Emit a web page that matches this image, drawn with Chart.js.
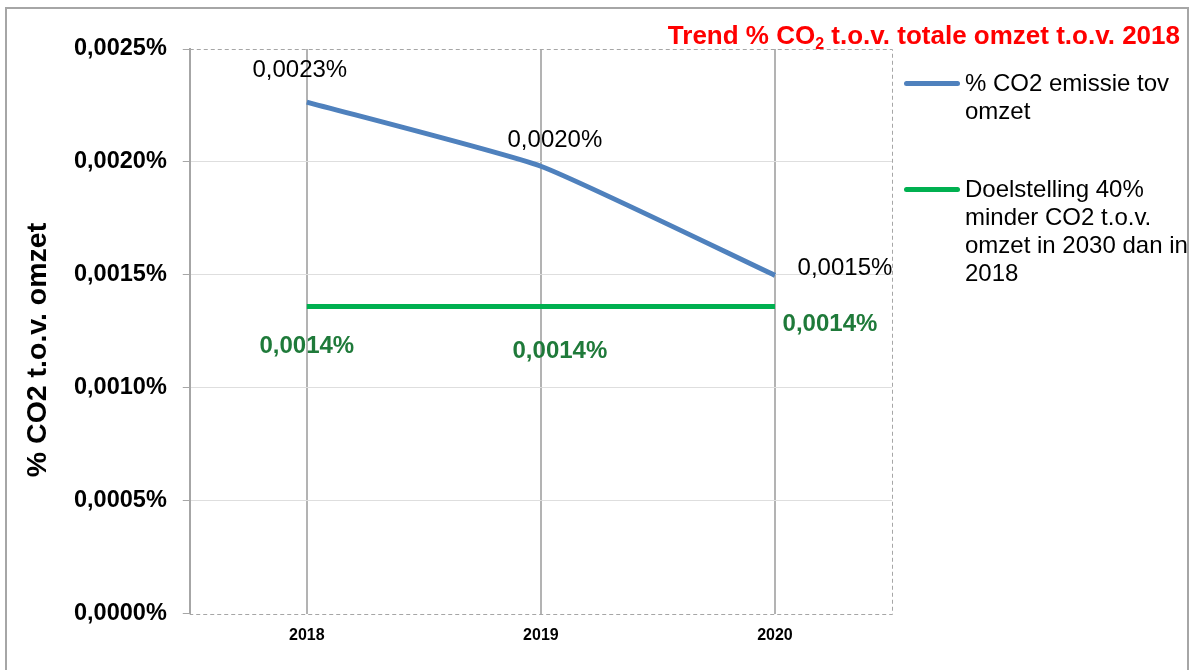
<!DOCTYPE html>
<html lang="nl">
<head>
<meta charset="UTF-8">
<title>Trend % CO2 t.o.v. totale omzet t.o.v. 2018</title>
<style>
    body {
        margin: 0;
        background: #fff;
        font-family: "Liberation Sans", Arial, sans-serif;
    }
    #wrap {
        position: relative;
        width: 1190px;
        height: 670px;
        overflow: hidden;
    }
    #chartBox {
        position: absolute;
        left: 0;
        top: 0;
        width: 1190px;
        height: 670px;
    }
    #frame {
        position: absolute;
        left: 5px;
        top: 7px;
        width: 1184px;
        height: 700px;
        border: 2px solid #a6a6a6;
        box-sizing: border-box;
        pointer-events: none;
    }
    #title {
        position: absolute;
        right: 10px;
        top: 20px;
        color: #ff0000;
        font-weight: bold;
        font-size: 26px;
        line-height: 30px;
        white-space: nowrap;
    }
    #title sub {
        font-size: 16px;
        vertical-align: -5px;
        line-height: 0;
    }
    #legend {
        position: absolute;
        left: 904px;
        top: 69px;
        width: 290px;
    }
    .item {
        display: flex;
        align-items: flex-start;
        margin-bottom: 50px;
    }
    .swatch {
        width: 56px;
        height: 5px;
        border-radius: 3px;
        margin-top: 12px;
        margin-right: 5px;
        flex: none;
    }
    .label {
        width: 228px;
        font-size: 24px;
        line-height: 28px;
        color: #000;
    }
</style>
<script src="https://cdn.jsdelivr.net/npm/chart.js"></script>
</head>
<body>
<div id="wrap">
    <div id="chartBox"><canvas id="co2Chart"></canvas></div>
    <div id="frame"></div>
    <div id="title">Trend % CO<sub>2</sub> t.o.v. totale omzet t.o.v. 2018</div>
    <div id="legend"></div>
</div>
<script>
    // Data (in %)
    const years = ['2018', '2019', '2020'];
    const co2Share = [0.002265, 0.001981, 0.001498];
    const target = [0.00136, 0.00136, 0.00136];
    const seriesNames = ['% CO2 emissie tov omzet', 'Doelstelling 40% minder CO2 t.o.v. omzet in 2030 dan in 2018'];
    const yTicks = [0, 0.0005, 0.0010, 0.0015, 0.0020, 0.0025];
    const yTitle = '% CO2 t.o.v. omzet';

    const FONT = '"Liberation Sans", Arial, sans-serif';
    const fmt = v => v.toFixed(4).replace('.', ',') + '%';

    // dashed plot frame (top, right, bottom), data labels, y axis title
    const extras = {
        id: 'extras',
        beforeDatasetsDraw(chart) {
            const {ctx, chartArea: a} = chart;
            const t = Math.round(a.top) + 0.5, r = Math.round(a.right) + 0.5, b = Math.round(a.bottom) + 0.5;
            ctx.save();
            ctx.strokeStyle = '#a6a6a6';
            ctx.lineWidth = 1;
            ctx.setLineDash([4, 3]);
            ctx.beginPath();
            ctx.moveTo(a.left, t);
            ctx.lineTo(r, t);
            ctx.lineTo(r, b);
            ctx.lineTo(a.left, b);
            ctx.stroke();
            ctx.restore();
        },
        afterDatasetsDraw(chart, args, opts) {
            const ctx = chart.ctx;
            ctx.save();
            ctx.textAlign = 'center';
            ctx.textBaseline = 'middle';
            chart.data.datasets.forEach((ds, i) => {
                const st = opts.styles[i];
                ctx.fillStyle = st.color;
                ctx.font = st.font;
                chart.getDatasetMeta(i).data.forEach((pt, j) => {
                    const off = st.offsets[j];
                    ctx.fillText(fmt(ds.data[j]), pt.x + off[0], pt.y + off[1]);
                });
            });
            // rotated axis title, sits a bit below the middle like the original
            ctx.translate(38, 350);
            ctx.rotate(-Math.PI / 2);
            ctx.fillStyle = '#000';
            ctx.font = 'bold 28.5px ' + FONT;
            ctx.fillText(yTitle, 0, 0);
            ctx.restore();
        }
    };

    const chart = new Chart(document.getElementById('co2Chart'), {
        type: 'line',
        data: {
            labels: years,
            datasets: [{
                label: seriesNames[0],
                data: co2Share,
                borderColor: '#4f81bd',
                borderWidth: 5,
                tension: 0.15,
                pointRadius: 0
            }, {
                label: seriesNames[1],
                data: target,
                borderColor: '#00b050',
                borderWidth: 5,
                pointRadius: 0
            }]
        },
        options: {
            responsive: true,
            maintainAspectRatio: false,
            animation: false,
            layout: {
                padding: {left: 58, right: 298, top: 49, bottom: 13}
            },
            plugins: {
                legend: {display: false},
                tooltip: {enabled: false},
                extras: {
                    styles: [
                        {color: '#000', font: '24px ' + FONT, offsets: [[-7, -32], [14, -26], [70, -7]]},
                        {color: '#1f7a3a', font: 'bold 24px ' + FONT, offsets: [[0, 40], [19, 45], [55, 18]]}
                    ]
                }
            },
            scales: {
                x: {
                    offset: true,
                    grid: {
                        offset: false,
                        color: '#b3b3b3',
                        lineWidth: 2,
                        drawTicks: false
                    },
                    border: {display: false},
                    ticks: {
                        padding: 12,
                        color: '#000',
                        font: {family: FONT, size: 16, weight: 'bold'}
                    }
                },
                y: {
                    min: 0,
                    max: 0.0025,
                    afterBuildTicks: axis => { axis.ticks = yTicks.map(v => ({value: v})); },
                    grid: {
                        color: c => (c.tick && (c.tick.value === 0 || c.tick.value === 0.0025)) ? 'rgba(0,0,0,0)' : '#dedede',
                        tickColor: '#a6a6a6',
                        tickLength: 7,
                        lineWidth: 1
                    },
                    border: {display: true, color: '#a6a6a6', width: 2},
                    ticks: {
                        padding: 16,
                        color: '#000',
                        font: {family: FONT, size: 23.5, weight: 'bold'},
                        callback: v => fmt(v)
                    }
                }
            }
        },
        plugins: [extras]
    });

    // HTML legend from the datasets
    const legendEl = document.getElementById('legend');
    chart.data.datasets.forEach(ds => {
        const item = document.createElement('div');
        item.className = 'item';
        item.innerHTML = `<div class="swatch" style="background:${ds.borderColor}"></div><div class="label"></div>`;
        item.querySelector('.label').textContent = ds.label;
        legendEl.appendChild(item);
    });
</script>
</body>
</html>
